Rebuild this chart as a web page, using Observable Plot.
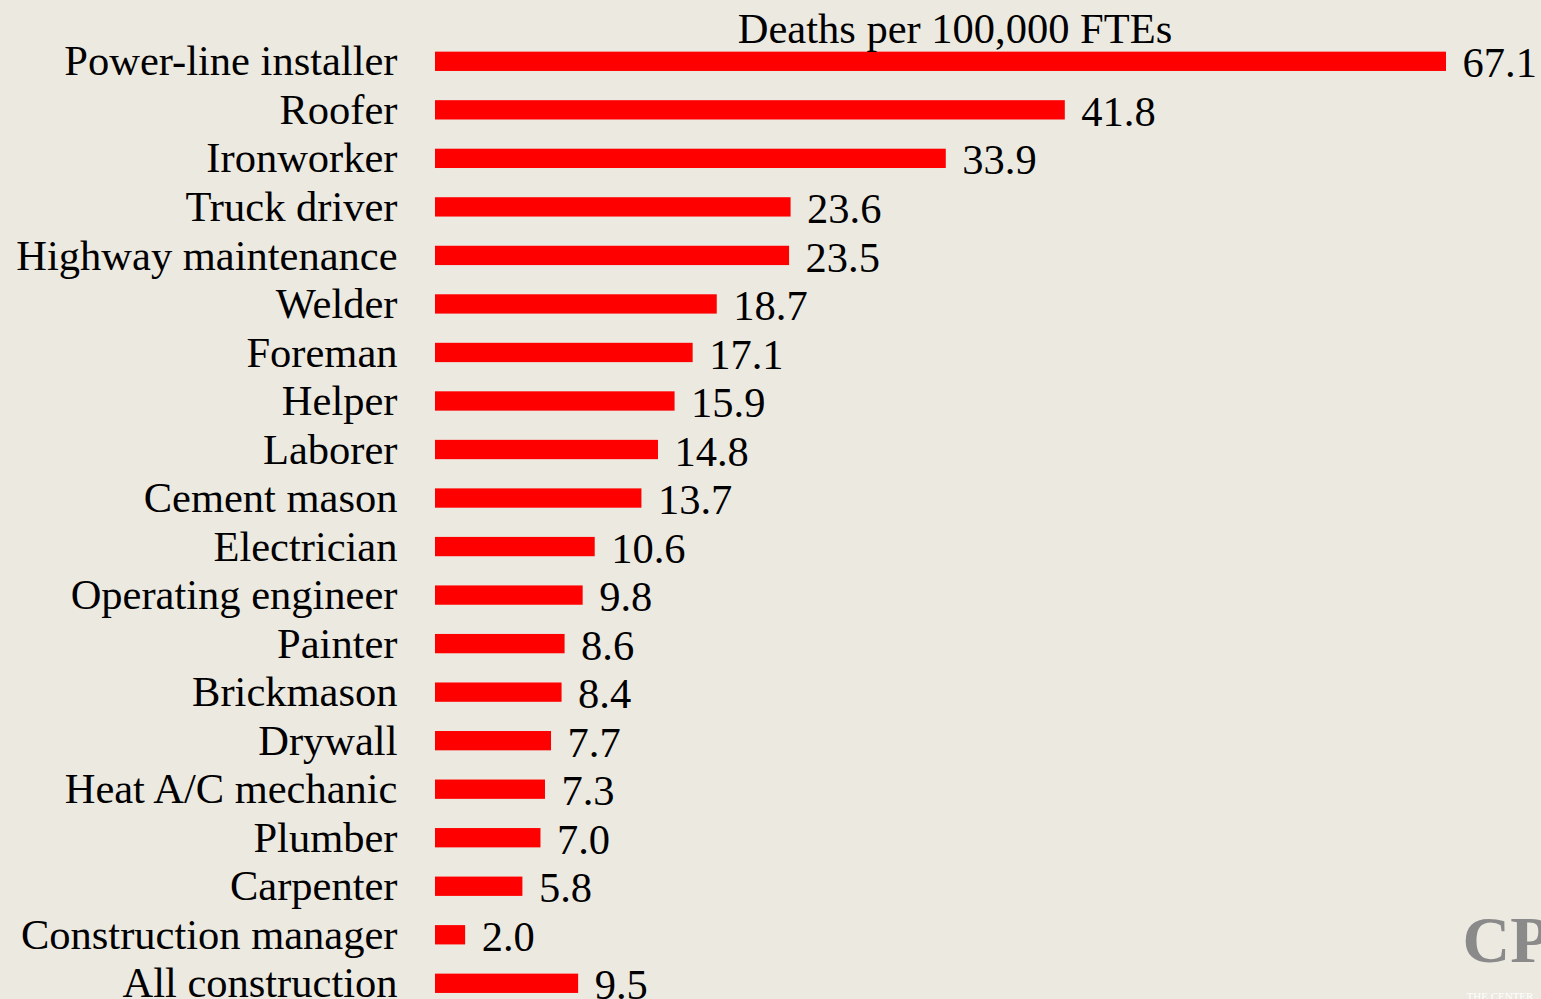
<!DOCTYPE html>
<html>
<head>
<meta charset="utf-8">
<script src="https://cdn.jsdelivr.net/npm/d3@7"></script>
<script src="https://cdn.jsdelivr.net/npm/@observablehq/plot@0.6"></script>
<style>
  html, body { margin: 0; padding: 0; background: #ECE9E0; }
  #chart svg { display: block; }
</style>
</head>
<body>
<div id="chart"></div>
<script>
const occupations = [
  "Power-line installer", "Roofer", "Ironworker", "Truck driver", "Highway maintenance",
  "Welder", "Foreman", "Helper", "Laborer", "Cement mason", "Electrician",
  "Operating engineer", "Painter", "Brickmason", "Drywall", "Heat A/C mechanic",
  "Plumber", "Carpenter", "Construction manager", "All construction"
];
const deaths = [67.1, 41.8, 33.9, 23.6, 23.5, 18.7, 17.1, 15.9, 14.8, 13.7, 10.6,
  9.8, 8.6, 8.4, 7.7, 7.3, 7.0, 5.8, 2.0, 9.5];
const title = "Deaths per 100,000 FTEs";
const logoText = "CP";
const logoSub = "THE CENTER";

const data = occupations.map((name, i) => ({name, value: deaths[i]}));

const chart = Plot.plot({
  width: 1541,
  height: 999,
  marginLeft: 435,
  marginRight: 95,
  marginTop: 46.8,
  marginBottom: 1.2,
  style: {background: "#ECE9E0", fontFamily: "'Liberation Serif', 'Times New Roman', serif", color: "#000"},
  x: {domain: [0, 67.1], axis: null},
  y: {domain: occupations, padding: 0.602, paddingOuter: 0.1, round: false, label: null},
  marks: [
    Plot.barX(data, {x: "value", y: "name", fill: "#FF0000"}),
    Plot.text(data, {x: "value", y: "name", text: d => d.value.toFixed(1), textAnchor: "start", dx: 16, dy: 2, fontSize: 42.5, fill: "#000"}),
    Plot.axisY({tickSize: 0, tickPadding: 38, fontSize: 42.5, label: null}),
    Plot.text([title], {frameAnchor: "top", lineAnchor: "bottom", dx: 14, dy: -4, fontSize: 42.5, fill: "#000"}),
    Plot.text([logoText], {frameAnchor: "bottom-right", textAnchor: "start", lineAnchor: "bottom", dx: 16, dy: -36, fontSize: 66, fontWeight: "bold", fill: "#8a8a8a"}),
    Plot.text([logoSub], {frameAnchor: "bottom-right", textAnchor: "start", lineAnchor: "bottom", dx: 20, dy: 2, fontSize: 11, fill: "#ffffff"})
  ]
});
document.getElementById("chart").appendChild(chart);
</script>
</body>
</html>
